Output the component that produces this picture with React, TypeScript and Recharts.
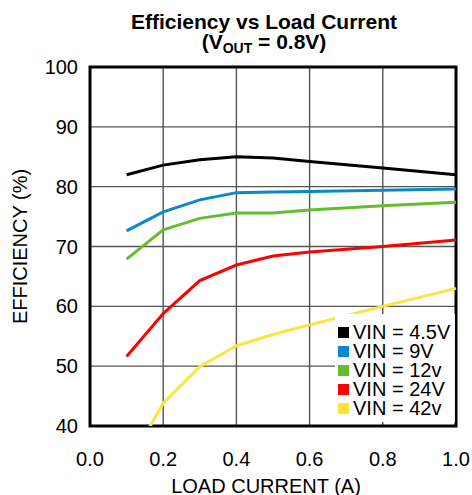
import React from "react";
import {
  LineChart,
  Line,
  XAxis,
  YAxis,
  CartesianGrid,
  Legend,
  ReferenceArea,
} from "recharts";

// load current (A) and efficiency (%) per input voltage
const loadCurrent = [0.1, 0.2, 0.3, 0.4, 0.5, 0.6, 0.8, 1.0];
const vin45 = [82.0, 83.6, 84.5, 85.0, 84.8, 84.2, 83.1, 82.0];
const vin9 = [72.6, 75.8, 77.8, 79.0, 79.1, 79.2, 79.4, 79.6];
const vin12 = [67.9, 72.8, 74.7, 75.6, 75.6, 76.1, 76.8, 77.4];
const vin24 = [51.6, 58.8, 64.3, 66.9, 68.4, 69.1, 70.0, 71.1];
const vin42 = [33.2, 43.8, 49.9, 53.4, 55.3, 56.9, 60.0, 63.0];

const xTicks = [0, 0.2, 0.4, 0.6, 0.8, 1.0];
const yTicks = [40, 50, 60, 70, 80, 90, 100];

const series = [
  { key: "v45", name: "VIN = 4.5V", color: "#000000" },
  { key: "v9", name: "VIN = 9V", color: "#0a88c8" },
  { key: "v12", name: "VIN = 12v", color: "#66bb2e" },
  { key: "v24", name: "VIN = 24V", color: "#ff0000" },
  { key: "v42", name: "VIN = 42v", color: "#fde43a" },
];

const data = loadCurrent.map((x, i) => ({
  x,
  v45: vin45[i],
  v9: vin9[i],
  v12: vin12[i],
  v24: vin24[i],
  v42: vin42[i],
}));

const FONT = "'Liberation Sans', Arial, Helvetica, sans-serif";

const seriesOrder = (name: string) => series.findIndex((s) => s.name === name);

// white box with square swatches, sits inside the plot bottom-right
const LegendBox = ({ payload }: any) => {
  // recharts sorts legend items by name; put them back in series order
  const items = [...(payload || [])].sort((a: any, b: any) => seriesOrder(a.value) - seriesOrder(b.value));
  return (
    <div style={{ background: "#fff", padding: "9px 0 4px 3px", fontSize: 20, color: "#000" }}>
      {items.map((p: any) => (
        <div
          key={p.value}
          style={{ display: "flex", alignItems: "center", height: 19, lineHeight: "19px", whiteSpace: "nowrap" }}
        >
          <span style={{ width: 11, height: 11, background: p.color, marginRight: 4, flexShrink: 0 }} />
          <span>{p.value}</span>
        </div>
      ))}
    </div>
  );
};

export default function App() {
  return (
    <div
      style={{
        position: "absolute",
        left: 0,
        top: 0,
        width: 472,
        height: 495,
        background: "#fff",
        fontFamily: FONT,
        overflow: "hidden",
      }}
    >
      <div
        style={{
          position: "absolute",
          left: 0,
          width: 528,
          top: 12,
          textAlign: "center",
          fontWeight: "bold",
          fontSize: 21,
          lineHeight: "20px",
          zIndex: 2,
        }}
      >
        Efficiency vs Load Current
      </div>
      <div
        style={{
          position: "absolute",
          left: 0,
          width: 528,
          top: 32,
          textAlign: "center",
          fontWeight: "bold",
          fontSize: 21,
          lineHeight: "20px",
          zIndex: 2,
        }}
      >
        (V<span style={{ fontSize: 14, position: "relative", top: 4 }}>OUT</span> = 0.8V)
      </div>
      <LineChart
        width={472}
        height={495}
        data={data}
        margin={{ top: 67, right: 16, bottom: 0, left: 0 }}
      >
        <CartesianGrid stroke="#555" strokeWidth={1.4} />
        <XAxis
          type="number"
          dataKey="x"
          domain={[0, 1]}
          ticks={xTicks}
          tickFormatter={(v: number) => v.toFixed(1)}
          height={69}
          tickSize={0}
          tickMargin={26}
          axisLine={false}
          tick={{ fill: "#000", fontSize: 20 }}
          label={{ value: "LOAD CURRENT (A)", position: "insideBottom", offset: 2, dx: -7, fill: "#000", fontSize: 20 }}
        />
        <YAxis
          type="number"
          domain={[40, 100]}
          ticks={yTicks}
          allowDataOverflow
          width={90}
          tickSize={0}
          tickMargin={12}
          axisLine={false}
          tick={{ fill: "#000", fontSize: 20 }}
          label={{
            value: "EFFICIENCY (%)",
            angle: -90,
            position: "insideLeft",
            offset: 17,
            dx: 3,
            fill: "#000",
            fontSize: 20,
            style: { textAnchor: "middle" },
          }}
        />
        {series.map((s) => (
          <Line
            key={s.key}
            type="linear"
            dataKey={s.key}
            name={s.name}
            stroke={s.color}
            strokeWidth={3}
            dot={false}
            legendType="square"
            isAnimationActive={false}
          />
        ))}
        <ReferenceArea x1={0} x2={1} y1={40} y2={100} fill="none" fillOpacity={0} stroke="#000" strokeWidth={3} />
        <Legend
          layout="vertical"
          align="center"
          verticalAlign="middle"
          content={<LegendBox />}
          wrapperStyle={{ left: 335, top: 314, width: 120, height: 107, right: "auto", bottom: "auto" }}
        />
      </LineChart>
    </div>
  );
}
